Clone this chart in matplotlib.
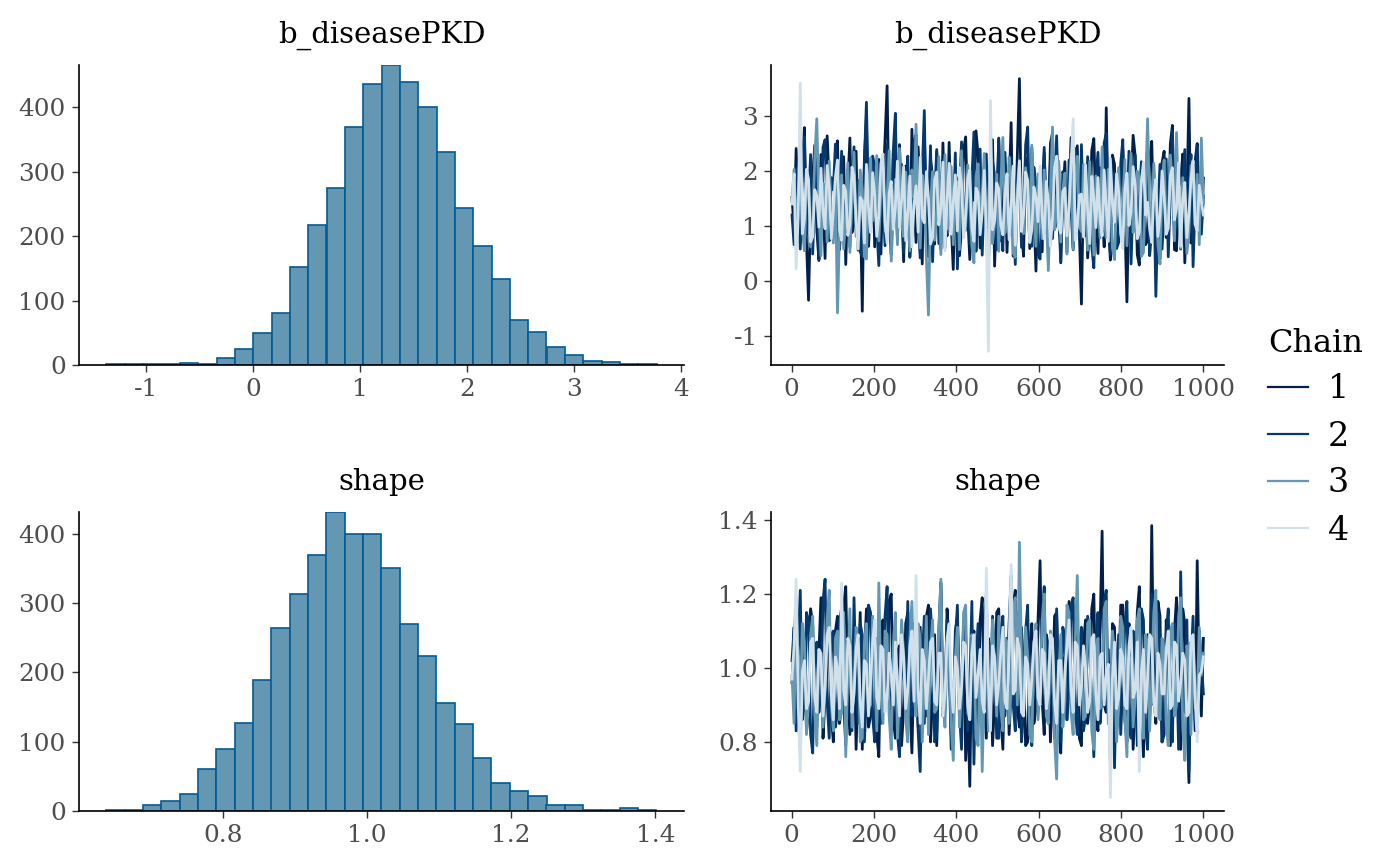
import numpy as np
import matplotlib
matplotlib.use("Agg")
import matplotlib.pyplot as plt
from matplotlib.lines import Line2D

# ---------------------- data

params = ["b_diseasePKD", "shape"]

# histograms: 30 bins each, first edge + bin width, counts per bin
hist_lo = [-1.371, 0.6387]
hist_width = [0.1714, 0.02543]
hist_counts = [
    [1, 1, 1, 1, 3, 1, 11, 25, 49, 81, 153, 217, 275, 370, 437,
     466, 440, 401, 331, 244, 185, 133, 70, 51, 28, 16, 6, 5, 2, 1],
    [1, 2, 8, 15, 24, 61, 90, 127, 189, 264, 313, 369, 431, 400, 399,
     350, 270, 223, 155, 125, 77, 40, 29, 22, 8, 8, 1, 2, 4, 1],
]
hist_xticks = [[-1, 0, 1, 2, 3, 4], [0.8, 1.0, 1.2, 1.4]]
hist_xticklabels = [["-1", "0", "1", "2", "3", "4"], ["0.8", "1.0", "1.2", "1.4"]]
hist_yticks = [0, 100, 200, 300, 400]

# trace values (thinned, ~every 5th draw) per chain
b_chain1 = [
    1.52, 0.94, 2.41, 1.63, 0.68, 2.12, 2.79, 0.71, -0.35, 1.28, 1.86, 2.47, 0.92, 0.39, 2.30, 1.51, 0.41, 2.64, 1.77, 0.83,
    0.85, 1.99, 2.55, 0.57, 1.18, 2.26, 0.30, 1.74, 2.60, 0.88, 1.05, 2.36, 0.56, 1.45, -0.55, 2.19, 2.98, 0.63, 1.40, 2.02,
    0.62, 1.81, 2.21, 0.49, 1.73, 2.58, 3.55, 1.10, 0.48, 2.33, 1.95, 0.76, 2.48, 1.37, 0.35, 2.09, 1.22, 0.54, 2.76, 1.48,
    0.70, 2.44, 1.64, 0.31, 2.70, 1.15, 0.44, 2.21, 1.90, 0.67, 2.35, 1.58, 0.58, 2.51, 1.31, 0.82, 2.52, 1.06, 0.21, 1.92,
    1.83, 0.46, 0.95, 2.39, 2.62, 1.19, 0.39, 1.68, 1.47, 2.73, 2.28, 0.60, 0.66, 1.85, 2.05, 0.37, 1.12, 2.57, 0.27, 1.41,
    2.58, 0.73, 1.36, 2.14, 0.52, 1.62, 2.88, 0.45, 0.80, 2.30, 3.68, 0.98, 0.45, 2.24, 1.98, 0.59, 2.42, 1.27, 0.18, 1.79,
    1.60, 0.53, 2.33, 1.17, 0.72, 2.50, 2.69, 0.94, 1.08, 2.11, 0.33, 1.56, 2.17, 0.69, 1.55, 2.61, 0.61, 1.38, 2.46, 0.87,
    -0.42, 1.70, 1.88, 0.42, 0.98, 2.37, 2.59, 1.25, 0.50, 2.06, 1.42, 0.62, 3.15, 1.03, 0.38, 2.29, 2.12, 0.75, 0.85, 1.90,
    2.40, 1.11, -0.38, 1.53, 1.70, 2.65, 2.27, 0.48, 0.29, 1.84, 1.95, 0.66, 0.74, 2.22, 2.54, 1.01, 1.26, 0.34, 0.41, 2.15,
    2.36, 0.79, 1.02, 2.49, 2.83, 0.57, 0.55, 1.72, 1.79, 2.31, 0.33, 1.46, 3.32, 0.69, 0.86, 2.18, 2.50, 1.13, 0.98, 1.87]
b_chain2 = [
    1.20, 0.66, 2.05, 1.38, 0.58, 1.97, 2.62, 0.84, 1.44, 2.30, 0.49, 1.61, 2.21, 0.37, 1.02, 2.43, 2.57, 1.09, 0.73, 1.88,
    1.66, 2.49, 0.38, 1.25, 2.36, 0.71, 1.15, 2.03, 0.62, 1.79, 2.44, 0.92, 1.83, 0.53, 0.45, 2.16, 3.25, 1.32, 0.91, 2.27,
    2.10, 0.99, 0.28, 1.74, 1.59, 0.64, 2.49, 1.21, 0.80, 2.38, 3.05, 0.86, 1.33, 2.12, 0.51, 1.67, 2.27, 0.43, 0.96, 2.55,
    2.66, 1.13, 0.42, 1.94, 3.10, 0.77, 1.19, 2.46, 0.35, 1.52, 2.39, 0.68, 1.71, 2.21, 0.60, 1.40, 2.15, 0.89, 1.06, 2.33,
    0.22, 1.58, 2.53, 0.91, 1.37, 2.08, 0.68, 1.83, 2.71, 0.54, 1.23, 2.40, 0.47, 1.69, 2.31, 0.74, 0.88, 2.20, 1.92, 0.57,
    2.60, 1.04, 0.55, 2.34, 1.48, 0.82, 2.25, 1.36, 0.30, 1.91, 2.09, 0.61, 1.14, 2.47, 2.80, 0.95, 0.63, 2.07, 1.75, 0.48,
    0.40, 1.62, 2.43, 0.88, 1.28, 2.19, 0.77, 1.54, 2.64, 1.17, 0.36, 1.99, 1.86, 0.52, 2.20, 1.31, 0.57, 2.41, 1.39, 0.80,
    2.48, 1.07, 0.82, 2.26, 1.61, 0.63, 0.24, 1.85, 2.34, 0.96, 1.09, 2.51, 2.68, 1.20, 0.49, 1.73, 1.97, 0.59, 0.70, 2.13,
    2.57, 0.85, 1.18, 2.36, 0.31, 1.49, 2.29, 0.72, 1.52, 2.17, 0.65, 1.94, 2.41, 0.46, 0.93, 1.80, -0.28, 1.26, 2.12, 0.58,
    1.35, 2.22, 0.44, 1.60, 2.73, 0.90, 1.01, 2.04, 0.58, 1.71, 2.39, 0.76, 1.67, 2.30, 0.26, 1.44, 2.46, 1.12, 0.85, 1.55]
b_chain3 = [
    1.45, 2.03, 0.88, 1.57, 2.10, 0.97, 0.55, 1.86, 1.73, 0.62, 1.02, 2.24, 2.95, 1.30, 0.46, 1.78, 1.61, 0.71, 2.18, 1.16,
    0.69, 1.85, -0.58, 0.93, 1.93, 0.58, 1.20, 2.15, 0.52, 1.47, 2.34, 0.81, 0.97, 2.02, 1.66, 0.44, 0.40, 1.72, 2.24, 1.09,
    1.31, 2.28, 0.73, 1.62, 2.09, 0.90, 1.49, 2.37, 0.36, 1.21, 1.85, 0.66, 2.41, 1.04, 0.81, 1.98, 1.38, 0.55, 2.02, 1.53,
    2.85, 1.11, 0.60, 1.92, 1.55, 0.42, -0.62, 1.37, 1.99, 0.74, 1.27, 2.26, 0.48, 1.68, 2.30, 0.95, 1.12, 2.08, 0.66, 1.80,
    1.80, 0.57, 2.37, 1.26, 0.92, 2.11, 1.44, 0.63, 0.33, 1.89, 2.13, 0.99, 1.58, 2.32, 0.75, 1.43, 2.26, 0.68, 1.05, 1.94,
    0.54, 1.76, 2.61, 0.87, 1.17, 2.25, 1.89, 0.51, 0.43, 1.64, 2.19, 1.08, 0.86, 2.06, 1.52, 0.70, 2.47, 1.33, 0.63, 1.95,
    1.34, 0.77, 2.02, 1.19, 0.19, 1.58, 2.80, 0.93, 1.24, 2.18, 0.71, 1.65, 1.96, 0.49, 1.41, 2.31, 0.58, 1.84, 2.27, 1.00,
    0.90, 2.12, 1.62, 0.56, 2.17, 1.28, 0.47, 1.91, 1.36, 0.78, 2.44, 1.15, 0.79, 2.03, 1.70, 0.60, 0.39, 1.49, 2.06, 0.85,
    1.29, 2.21, 0.64, 1.73, 2.32, 0.88, 1.11, 2.00, 1.87, 0.45, 0.52, 1.66, 2.95, 1.22, 0.83, 2.14, 1.47, 0.67, 0.31, 1.81,
    2.20, 0.92, 1.08, 2.29, 1.75, 0.73, 2.70, 1.27, 0.60, 1.88, 1.39, 0.50, 0.88, 2.09, 2.15, 1.02, 1.94, 0.66, 2.60, 1.42]
b_chain4 = [
    1.40, 1.95, 0.22, 1.18, 3.60, 0.86, 1.12, 2.03, 1.85, 0.71, 0.80, 1.66, 1.55, 0.98, 2.05, 1.27, 0.95, 2.10, 1.70, 0.77,
    1.28, 1.89, 2.20, 0.92, 0.74, 1.74, 1.63, 0.83, 1.03, 2.07, 1.92, 1.09, 0.58, 1.52, 1.46, 0.69, 2.12, 1.33, 0.88, 1.97,
    1.57, 0.81, 1.19, 2.14, 2.31, 1.06, 0.69, 1.60, 1.81, 0.94, 1.34, 2.18, 0.97, 1.45, 2.08, 0.73, 1.24, 1.91, 0.62, 1.38,
    1.73, 0.89, 2.25, 1.15, 1.06, 1.99, 1.50, 0.67, 0.79, 1.84, 1.98, 1.02, 1.31, 2.16, 0.55, 1.47, 2.14, 0.85, 1.41, 1.93,
    0.91, 2.06, 1.76, 0.78, 1.16, 1.87, 2.02, 0.96, 0.72, 1.69, 1.60, 0.84, 1.25, 2.01, 0.88, -1.28, 3.28, 0.93, 1.10, 1.78,
    1.67, 1.02, 0.84, 1.58, 1.95, 0.75, 1.37, 2.09, 0.65, 1.44, 2.18, 0.90, 1.21, 1.98, 1.83, 0.70, 0.93, 1.71, 1.52, 1.08,
    2.09, 1.17, 0.76, 1.81, 1.44, 0.63, 1.14, 2.05, 2.27, 0.99, 0.87, 1.63, 1.69, 0.82, 1.30, 2.12, 2.95, 0.74, 0.99, 1.56,
    1.58, 0.80, 2.11, 1.29, 0.68, 1.90, 1.49, 0.97, 1.88, 1.13, 0.82, 2.02, 1.35, 0.72, 2.23, 1.41, 1.07, 1.95, 1.62, 0.86,
    0.59, 1.67, 1.96, 1.01, 1.27, 2.08, 1.74, 0.77, 0.89, 1.82, 2.16, 1.20, 1.43, 0.94, 0.70, 1.59, 1.85, 0.81, 1.18, 2.00,
    1.53, 0.85, 0.96, 1.92, 2.06, 1.11, 1.33, 2.15, 0.63, 1.48, 1.79, 0.79, 1.22, 1.86, 2.19, 1.03, 0.91, 1.74, 1.45, 1.20]

shape_chain1 = [
    0.96, 1.07, 1.18, 0.86, 0.79, 1.02, 1.08, 0.83, 0.88, 1.16, 1.12, 0.90, 0.84, 1.04, 1.19, 0.81, 0.92, 1.13, 1.05, 0.87,
    0.80, 1.10, 1.14, 0.85, 0.90, 1.17, 1.22, 0.93, 0.82, 1.06, 1.09, 0.78, 0.97, 1.15, 0.78, 1.03, 1.16, 0.84, 0.87, 1.11,
    1.03, 0.82, 0.76, 1.08, 1.13, 0.89, 0.93, 1.18, 1.20, 0.86, 0.81, 1.04, 1.06, 0.79, 0.89, 1.12, 1.15, 0.91, 0.77, 1.01,
    1.01, 0.84, 1.11, 0.95, 0.85, 1.14, 1.17, 0.80, 0.92, 1.09, 0.79, 1.02, 1.23, 0.87, 0.88, 1.16, 1.07, 0.82, 0.83, 1.10,
    1.14, 0.88, 0.95, 1.12, 0.75, 0.90, 0.68, 1.05, 1.10, 0.83, 0.86, 1.13, 1.19, 0.92, 0.81, 1.08, 1.04, 0.79, 0.91, 1.15,
    1.16, 0.87, 0.78, 1.04, 1.08, 0.82, 0.94, 1.17, 1.21, 0.89, 0.84, 1.11, 1.00, 0.79, 0.80, 1.06, 1.12, 0.85, 0.89, 1.13,
    1.29, 0.91, 0.82, 1.09, 1.06, 0.80, 0.93, 1.14, 1.15, 0.84, 0.77, 1.02, 1.03, 0.86, 1.18, 0.92, 0.86, 1.12, 1.10, 0.81,
    0.79, 1.07, 1.13, 0.85, 0.91, 1.16, 1.20, 0.88, 0.83, 1.10, 1.37, 0.90, 0.88, 1.05, 0.74, 1.12, 1.11, 0.83, 0.95, 1.17,
    1.17, 0.86, 0.80, 1.12, 1.07, 0.78, 0.90, 1.15, 1.22, 0.89, 0.76, 1.04, 1.09, 0.87, 1.385, 0.94, 0.85, 1.18, 1.14, 0.80,
    0.82, 1.13, 1.05, 0.79, 0.93, 1.10, 1.19, 0.84, 0.78, 1.16, 1.12, 0.88, 0.69, 1.07, 1.01, 0.83, 1.29, 0.95, 0.87, 1.08]
shape_chain2 = [
    1.02, 1.11, 0.83, 1.05, 1.21, 0.86, 0.90, 1.15, 1.13, 0.82, 0.77, 1.03, 1.07, 0.88, 0.94, 1.18, 1.24, 0.91, 0.81, 1.09,
    1.10, 0.84, 0.88, 1.13, 1.16, 0.90, 0.79, 1.06, 1.04, 0.83, 1.19, 0.95, 0.85, 1.12, 1.09, 0.80, 0.92, 1.17, 1.15, 0.87,
    0.80, 1.08, 1.06, 0.85, 0.89, 1.14, 1.22, 0.93, 0.84, 1.09, 1.11, 0.82, 0.76, 1.04, 1.00, 0.88, 1.18, 0.91, 0.87, 1.12,
    1.08, 0.83, 0.72, 1.02, 1.14, 0.87, 0.93, 1.16, 1.05, 0.80, 0.82, 1.10, 1.23, 0.89, 0.91, 1.13, 1.01, 0.78, 0.86, 1.07,
    1.17, 0.88, 0.78, 1.05, 1.09, 0.83, 0.95, 1.18, 0.74, 1.01, 1.12, 0.86, 0.84, 1.11, 1.20, 0.92, 0.90, 1.14, 1.03, 0.81,
    0.81, 1.09, 1.14, 0.87, 0.97, 1.12, 1.25, 0.90, 0.83, 1.15, 1.06, 0.80, 0.88, 1.10, 1.17, 0.85, 0.79, 1.04, 1.10, 0.92,
    0.92, 1.13, 1.22, 0.88, 0.85, 1.07, 1.02, 0.81, 1.16, 0.94, 0.80, 1.11, 1.08, 0.86, 0.94, 1.17, 1.19, 0.89, 0.82, 1.06,
    1.11, 0.83, 0.87, 1.14, 1.04, 0.90, 0.76, 1.08, 1.15, 0.85, 0.93, 1.18, 1.21, 0.88, 0.84, 1.06, 0.73, 0.99, 1.09, 0.82,
    0.96, 1.12, 1.18, 0.86, 0.81, 1.10, 1.05, 0.79, 0.89, 1.16, 1.13, 0.84, 0.78, 1.03, 1.20, 0.90, 0.91, 1.15, 1.07, 0.80,
    0.85, 1.09, 1.16, 0.87, 0.80, 1.12, 1.03, 0.78, 1.26, 0.94, 0.88, 1.13, 0.72, 1.01, 1.14, 0.86, 0.83, 1.10, 1.02, 0.93]
shape_chain3 = [
    0.98, 0.85, 1.19, 1.02, 0.86, 1.12, 1.07, 0.82, 0.91, 1.09, 1.14, 0.88, 0.79, 1.05, 1.03, 0.84, 0.94, 1.13, 1.21, 0.90,
    0.83, 1.08, 1.10, 0.86, 0.88, 1.15, 0.76, 0.99, 1.16, 0.84, 0.95, 1.11, 1.06, 0.80, 0.81, 1.07, 1.12, 0.89, 0.90, 1.14,
    1.01, 0.83, 1.23, 0.94, 0.85, 1.10, 1.09, 0.87, 0.78, 1.06, 1.15, 0.81, 0.92, 1.13, 1.04, 0.86, 0.80, 1.08, 1.18, 0.93,
    0.87, 1.12, 1.08, 0.80, 0.96, 1.14, 0.82, 1.05, 1.13, 0.88, 0.89, 1.10, 1.24, 0.91, 0.84, 1.07, 1.02, 0.85, 0.75, 1.03,
    1.11, 0.84, 0.93, 1.15, 1.17, 0.88, 0.86, 1.09, 1.05, 0.81, 0.79, 1.04, 0.72, 0.95, 1.10, 0.83, 0.90, 1.13, 1.00, 0.87,
    1.14, 0.89, 0.83, 1.08, 1.07, 0.85, 0.94, 1.16, 1.19, 0.90, 1.34, 1.02, 0.88, 1.11, 1.03, 0.82, 0.80, 1.06, 1.12, 0.86,
    0.95, 1.13, 1.20, 0.87, 0.85, 1.10, 1.06, 0.81, 0.70, 0.98, 1.09, 0.84, 0.91, 1.17, 1.15, 0.88, 0.82, 1.07, 1.25, 0.92,
    1.00, 0.86, 0.87, 1.12, 1.13, 0.83, 0.78, 1.05, 1.08, 0.89, 0.93, 1.16, 1.18, 0.85, 0.84, 1.10, 1.04, 0.80, 0.89, 1.14,
    1.11, 0.87, 0.76, 1.03, 1.02, 0.84, 0.92, 1.13, 1.16, 0.88, 0.81, 1.09, 1.07, 0.83, 0.97, 1.15, 1.21, 0.90, 0.86, 1.08,
    1.05, 0.85, 0.79, 1.10, 1.12, 0.87, 0.90, 1.14, 1.19, 0.84, 0.75, 1.06, 1.03, 0.82, 1.08, 0.89, 0.91, 1.11, 0.98, 1.04]
shape_chain4 = [
    0.97, 1.06, 1.24, 0.90, 0.72, 0.99, 1.02, 0.89, 0.91, 1.07, 1.08, 0.92, 0.88, 1.05, 1.04, 0.87, 0.95, 1.09, 1.11, 0.93,
    0.86, 1.03, 1.00, 0.89, 1.23, 0.94, 0.90, 1.08, 1.06, 0.88, 0.93, 1.05, 1.09, 0.91, 0.84, 1.02, 1.01, 0.87, 0.96, 1.07,
    1.13, 0.92, 0.89, 1.06, 1.05, 0.88, 0.92, 1.04, 0.99, 0.90, 1.07, 0.95, 0.87, 1.09, 1.03, 0.89, 0.94, 1.06, 1.10, 0.91,
    1.25, 0.94, 0.85, 1.05, 1.02, 0.89, 0.97, 1.07, 1.08, 0.91, 0.90, 1.04, 1.04, 0.87, 0.93, 1.08, 1.12, 0.95, 0.88, 1.03,
    1.00, 0.89, 0.95, 1.07, 1.06, 0.90, 0.86, 1.04, 1.09, 0.92, 0.98, 1.05, 0.91, 0.88, 1.27, 0.96, 0.83, 1.06, 1.03, 0.90,
    0.96, 1.04, 1.11, 0.91, 0.89, 1.06, 1.28, 0.93, 0.94, 1.08, 1.05, 0.88, 0.87, 1.03, 1.01, 0.90, 0.97, 1.07, 1.10, 0.92,
    0.90, 1.05, 1.04, 0.89, 0.93, 1.09, 1.08, 0.91, 0.85, 1.02, 1.02, 0.88, 0.99, 1.06, 1.13, 0.94, 0.88, 1.07, 1.06, 0.90,
    0.95, 1.06, 1.00, 0.88, 0.91, 1.08, 1.09, 0.93, 0.86, 1.03, 1.04, 0.90, 0.98, 1.01, 0.65, 0.97, 1.07, 0.89, 0.92, 1.05,
    1.03, 0.90, 0.89, 1.06, 1.11, 0.92, 0.94, 1.07, 0.72, 0.99, 1.05, 0.88, 0.97, 1.09, 1.08, 0.91, 0.87, 1.04, 1.01, 0.93,
    0.93, 1.05, 1.10, 0.89, 0.90, 1.07, 1.06, 0.91, 0.96, 1.04, 1.02, 0.87, 0.88, 1.08, 1.09, 0.92, 0.80, 0.98, 0.99, 1.03]

traces = [[b_chain1, b_chain2, b_chain3, b_chain4],
          [shape_chain1, shape_chain2, shape_chain3, shape_chain4]]
trace_yticks = [[-1, 0, 1, 2, 3], [0.8, 1.0, 1.2, 1.4]]
trace_yticklabels = [["-1", "0", "1", "2", "3"], ["0.8", "1.0", "1.2", "1.4"]]
n_iter = 1000
iter_ticks = [0, 200, 400, 600, 800, 1000]
chains = ["1", "2", "3", "4"]

# ---------------------- style

hist_fill = "#6497b1"
hist_edge = "#005b96"
chain_colors = ["#011f4b", "#03396c", "#6497b1", "#d1e1ec"]
tick_color = "#4d4d4d"

plt.rcParams["font.family"] = ["DejaVu Serif"]

fig = plt.figure(figsize=(7, 4.33), dpi=200)
W, H = 1400, 866

def panel(x0, x1, y0, y1):
    return fig.add_axes([x0 / W, 1 - y1 / H, (x1 - x0) / W, (y1 - y0) / H])

def style(ax):
    for s in ["top", "right"]:
        ax.spines[s].set_visible(False)
    for s in ["left", "bottom"]:
        ax.spines[s].set_linewidth(0.6)
        ax.spines[s].set_color("black")
    ax.tick_params(length=2.6, width=0.5, color="#333333", labelsize=8.9,
                   labelcolor=tick_color, pad=2.2)

rows = [(65, 365), (512, 811)]

for r, (y0, y1) in enumerate(rows):
    # histogram
    ax = panel(79, 684, y0, y1)
    style(ax)
    counts = np.array(hist_counts[r])
    edges = hist_lo[r] + hist_width[r] * np.arange(len(counts) + 1)
    ax.bar(edges[:-1], counts, width=hist_width[r], align="edge",
           color=hist_fill, edgecolor=hist_edge, linewidth=0.6)
    span = edges[-1] - edges[0]
    ax.set_xlim(edges[0] - 0.05 * span, edges[-1] + 0.05 * span)
    ax.set_ylim(0, counts.max())
    ax.set_xticks(hist_xticks[r])
    ax.set_xticklabels(hist_xticklabels[r])
    ax.set_yticks(hist_yticks)
    ax.set_title(params[r], fontsize=10.5, pad=8)

    # trace
    ax = panel(771, 1224, y0, y1)
    style(ax)
    lo, hi = np.inf, -np.inf
    for c, vals in enumerate(traces[r]):
        vals = np.array(vals)
        it = np.linspace(1, n_iter, len(vals))
        ax.plot(it, vals, color=chain_colors[c], linewidth=1.0)
        lo, hi = min(lo, vals.min()), max(hi, vals.max())
    ax.set_xlim(-50, 1050)
    ax.set_ylim(lo - 0.05 * (hi - lo), hi + 0.05 * (hi - lo))
    ax.set_xticks(iter_ticks)
    ax.set_yticks(trace_yticks[r])
    ax.set_yticklabels(trace_yticklabels[r])
    ax.set_title(params[r], fontsize=10.5, pad=8)

handles = [Line2D([], [], color=chain_colors[c], linewidth=0.8) for c in range(4)]
leg = fig.legend(handles, chains, title="Chain", loc="center left",
                 bbox_to_anchor=(1238 / W, 1 - 437 / H), frameon=False,
                 fontsize=12, title_fontsize=11.5, handlelength=1.2,
                 handletextpad=0.6, labelspacing=0.45, alignment="left")

fig.savefig("out.png", dpi=200, facecolor="white")
